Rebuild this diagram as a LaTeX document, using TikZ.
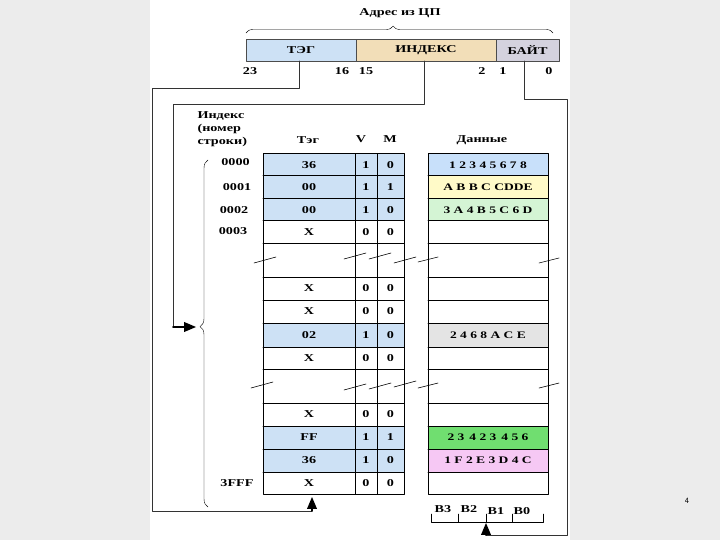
\documentclass[tikz,border=0pt]{standalone}
\usepackage{fontspec}
\setmainfont[FakeStretch=1.35]{Liberation Serif}
\usepackage{tikz}
\usetikzlibrary{arrows,decorations.pathreplacing}
\definecolor{slidegray}{RGB}{236,236,236}
\definecolor{tegblue}{RGB}{205,225,245}
\definecolor{indtan}{RGB}{242,222,184}
\definecolor{bytegray}{RGB}{212,210,222}
\definecolor{datblue}{RGB}{200,224,250}
\definecolor{datyellow}{RGB}{255,250,200}
\definecolor{datlgreen}{RGB}{212,244,212}
\definecolor{datgray}{RGB}{228,228,228}
\definecolor{datgreen}{RGB}{112,222,112}
\definecolor{datpink}{RGB}{246,200,244}
\tikzset{
  tbl/.style={line width=1pt},
  wire/.style={line width=0.8pt,black!80},
  stub/.style={line width=1.8pt,->},
  brk/.style={line width=0.6pt},
  hdr/.style={font=\bfseries\fontsize{10.5}{13}\selectfont},
  dat/.style={font=\bfseries\fontsize{10}{12}\selectfont},
}

\begin{document}
\begin{tikzpicture}[line cap=round,line join=round,>=triangle 45,x=1pt,y=-1pt,
  font=\bfseries\fontsize{10.5}{12}\selectfont]
\useasboundingbox (0,0) rectangle (720,540);
\fill[slidegray] (0,0) rectangle (720,540);
\fill[white] (150,0) rectangle (570,540);
\node[font=\sffamily\fontsize{8}{9}\selectfont] (pagenum) at (687,501) {4};

\node[hdr] (title) at (400,13) {Адрес из ЦП};
\draw[decorate,decoration={brace,amplitude=7pt,aspect=0.479}] (246,33) -- (553,33);
\draw[line width=0.8pt,draw=black!70,fill=tegblue] (246,39) rectangle (356,61);
\draw[line width=0.8pt,draw=black!70,fill=indtan] (356,39) rectangle (496,61);
\draw[line width=0.8pt,draw=black!70,fill=bytegray] (496,39) rectangle (559,61);
\node (tegf) at (301,50) {ТЭГ};
\node (indf) at (426,50) {ИНДЕКС};
\node (bytef) at (527.5,50) {БАЙТ};
\node (bit23) at (250,71) {23};
\node (bit16) at (342,71) {16};
\node (bit15) at (366,71) {15};
\node (bit2) at (482,71) {2};
\node (bit1) at (503,71) {1};
\node (bit0) at (549,71) {0};

\node[hdr,align=left,anchor=west] (idxhead) at (194,129) {Индекс\\(номер\\строки)};
\node[hdr] (taghead) at (308,140) {Тэг};
\node[hdr] (vhead) at (361,139) {V};
\node[hdr] (mhead) at (390,139) {M};
\node[hdr] (dathead) at (482,140) {Данные};

\fill[tegblue] (263,154) rectangle (404,221);
\fill[tegblue] (263,323) rectangle (404,347);
\fill[tegblue] (263,426) rectangle (404,472);
\fill[datblue] (428,154) rectangle (548,176);
\fill[datyellow] (428,176) rectangle (548,199);
\fill[datlgreen] (428,199) rectangle (548,221);
\fill[datgray] (428,323) rectangle (548,347);
\fill[datgreen] (428,426) rectangle (548,449);
\fill[datpink] (428,449) rectangle (548,472);

\draw[tbl] (263,154) rectangle (404,494);
\draw[tbl] (355,154) -- (355,494) (377,154) -- (377,494);
\draw[tbl] (428,154) rectangle (548,494);
\draw[tbl] (263,176) -- (404,176) (428,176) -- (548,176)
  (263,199) -- (404,199) (428,199) -- (548,199)
  (263,221) -- (404,221) (428,221) -- (548,221)
  (263,243) -- (404,243) (428,243) -- (548,243)
  (263,277) -- (404,277) (428,277) -- (548,277)
  (263,300) -- (404,300) (428,300) -- (548,300)
  (263,323) -- (404,323) (428,323) -- (548,323)
  (263,347) -- (404,347) (428,347) -- (548,347)
  (263,369) -- (404,369) (428,369) -- (548,369)
  (263,403) -- (404,403) (428,403) -- (548,403)
  (263,426) -- (404,426) (428,426) -- (548,426)
  (263,449) -- (404,449) (428,449) -- (548,449)
  (263,472) -- (404,472) (428,472) -- (548,472);

\draw[brk] (254,263) -- (276,257) (344,259) -- (366,253) (369,259) -- (391,253)
  (394,263) -- (416,257) (418,262) -- (438,257) (539,263) -- (559,258);
\draw[brk] (251,388) -- (273,382) (344,390) -- (366,384) (369,389) -- (391,383)
  (394,387) -- (416,381) (418,388) -- (438,383) (539,388) -- (559,383);

\node (row0) at (235.5,162) {0000};
\node (row1) at (237,187) {0001};
\node (row2) at (234,210) {0002};
\node (row3) at (233,231) {0003};
\node (rowlast) at (237,483) {3FFF};

\node (tag0) at (309,165) {36};   \node (v0) at (366,165) {1};   \node (m0) at (390.5,165) {0};
\node (tag1) at (309,187.5) {00}; \node (v1) at (366,187.5) {1}; \node (m1) at (390.5,187.5) {1};
\node (tag2) at (309,210) {00};   \node (v2) at (366,210) {1};   \node (m2) at (390.5,210) {0};
\node (tag3) at (309,232) {X};    \node (v3) at (366,232) {0};   \node (m3) at (390.5,232) {0};
\node (tag5) at (309,288.5) {X};  \node (v5) at (366,288.5) {0}; \node (m5) at (390.5,288.5) {0};
\node (tag6) at (309,311.5) {X};  \node (v6) at (366,311.5) {0}; \node (m6) at (390.5,311.5) {0};
\node (tag7) at (309,335) {02};   \node (v7) at (366,335) {1};   \node (m7) at (390.5,335) {0};
\node (tag8) at (309,358) {X};    \node (v8) at (366,358) {0};   \node (m8) at (390.5,358) {0};
\node (tag10) at (309,414.5) {X}; \node (v10) at (366,414.5) {0}; \node (m10) at (390.5,414.5) {0};
\node (tag11) at (309,437.5) {FF}; \node (v11) at (366,437.5) {1}; \node (m11) at (390.5,437.5) {1};
\node (tag12) at (309,460.5) {36}; \node (v12) at (366,460.5) {1}; \node (m12) at (390.5,460.5) {0};
\node (tag13) at (309,483) {X};   \node (v13) at (366,483) {0};   \node (m13) at (390.5,483) {0};

\node[dat] (dat0) at (488,165) {1 2 3 4 5 6 7 8};
\node[dat] (dat1) at (488,187.5) {A B B C CDDE};
\node[dat] (dat2) at (488,210) {3 A 4 B 5 C 6 D};
\node[dat] (dat7) at (488,335) {2 4 6 8 A C E};
\node[dat] (dat11) at (488,437.5) {2 3 \,4 2 3 \,4 5 6};
\node[dat] (dat12) at (488,460.5) {1 F 2 E 3 D 4 C};

\draw[decorate,decoration={brace,amplitude=8pt,aspect=0.52}] (208,507) -- (208,160);

\node (b3) at (443,509) {B3};
\node (b2) at (469,509) {B2};
\node (b1) at (496,511) {B1};
\node (b0) at (522,511) {B0};
\draw (431,514) -- (431,522) -- (543,522) -- (543,514);
\draw (458,514) -- (458,522) (486,514) -- (486,522) (512,514) -- (512,522);

\coordinate (tegtap) at (299,61);
\coordinate (tegkink) at (312,511);
\coordinate (tegin) at (312,497);
\coordinate (indtap) at (424,61);
\coordinate (indkink) at (173,327);
\coordinate (indin) at (196,327);
\coordinate (bytetap) at (524,61);
\coordinate (bytekink) at (486,535);
\coordinate (bytein) at (486,523);
\draw[wire] (tegtap) -- (299,88) -- (152,88) -- (152,511) -- (tegkink);
\draw[stub] (tegkink) -- (tegin);
\draw[wire] (indtap) -- (424,104) -- (173,104) -- (indkink);
\draw[stub] (indkink) -- (indin);
\draw[wire] (bytetap) -- (524,99) -- (567,99) -- (567,535) -- (bytekink);
\draw[stub] (bytekink) -- (bytein);
\end{tikzpicture}
\end{document}
